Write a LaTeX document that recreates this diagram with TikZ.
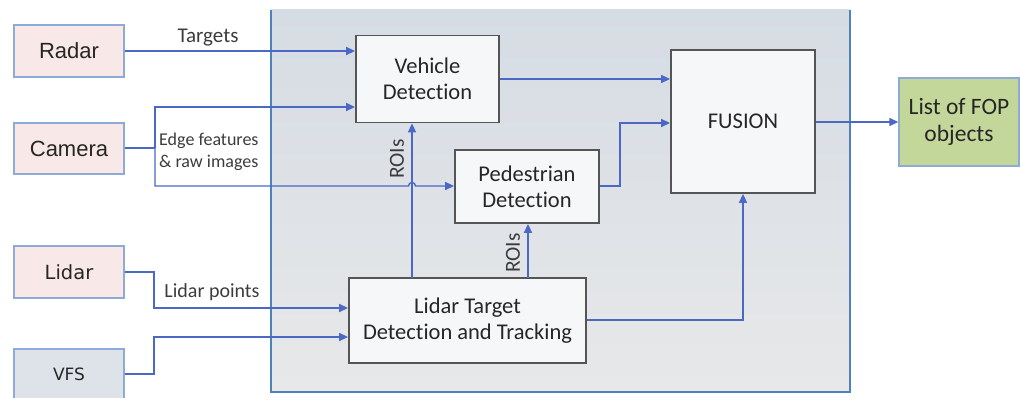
\documentclass[tikz,border=0pt]{standalone}
\usepackage{fontspec}
\setmainfont{Carlito}[Ligatures=NoCommon]
\newfontfamily\arialf{Liberation Sans}
\newfontfamily\dejavu{DejaVu Sans}
\usetikzlibrary{arrows.meta,calc}
\definecolor{linkblue}{HTML}{4A68C4}
\definecolor{frameblue}{HTML}{4F81BD}
\definecolor{inborder}{HTML}{8EAAD6}
\definecolor{pinkfill}{HTML}{F8E8E8}
\definecolor{greyfill}{HTML}{DEE3EA}
\definecolor{greenfill}{HTML}{C4D79B}
\definecolor{procfill}{HTML}{F6F7F8}
\definecolor{procline}{HTML}{555555}
\definecolor{txt}{HTML}{262626}
\definecolor{frametop}{HTML}{D6DCE4}
\definecolor{framebot}{HTML}{E7E8E9}
\tikzset{
  x=1pt, y=-1pt,
  source/.style={draw=inborder, line width=1.4pt, fill=pinkfill, minimum width=110pt, minimum height=52pt, inner sep=0pt, text=txt},
  proc/.style={draw=procline, line width=1.8pt, fill=procfill, inner sep=0pt, text=txt, align=center, font=\fontsize{22.5}{26}\selectfont},
  conn/.style={draw=linkblue, line width=1.4pt},
  arr/.style={conn, -{Triangle[length=9pt,width=8pt]}},
  lbl/.style={text=txt!90, inner sep=0pt, font=\fontsize{20}{24}\selectfont},
}
\begin{document}
\begin{tikzpicture}
\clip (0,0) rectangle (1021,398);
\useasboundingbox (0,0) rectangle (1021,398);

% processing frame
\fill[top color=frametop, bottom color=framebot] (271,10) rectangle (850,392);
\draw[draw=frameblue, line width=2.8pt] (271,10) -- (271,392) -- (850,392) -- (850,10);

% sensors
\node[source, font=\arialf\fontsize{22}{26}\selectfont] (radar) at (69,51) {Radar};
\node[source, font=\arialf\fontsize{22}{26}\selectfont, minimum height=51pt] (camera) at (69,148.5) {Camera};
\node[source, font=\dejavu\fontsize{19.5}{24}\selectfont] (lidar) at (69,272) {Lidar};
\node[source, fill=greyfill, font=\dejavu\fontsize{17}{20}\selectfont, minimum height=50pt] (vfs) at (69,374) {VFS};

% processing blocks
\node[proc, minimum width=143pt, minimum height=87pt] (veh) at (427.5,79) {Vehicle\\Detection};
\node[proc, minimum width=144pt, minimum height=73pt] (ped) at (527,186.5) {Pedestrian\\Detection};
\node[proc, minimum width=237pt, minimum height=85pt] (ltd) at (467.5,320.5) {Lidar Target\\Detection and Tracking};
\node[proc, minimum width=144pt, minimum height=143pt] (fus) at (743,121.5) {FUSION};

% output
\node[draw=inborder, line width=1.4pt, fill=greenfill, minimum width=120pt, minimum height=88pt, inner sep=0pt, text=txt, align=center, font=\fontsize{23.5}{27}\selectfont] (fop) at (959,122) {List of FOP\\objects};

% routing points
\coordinate (camj) at (155,148);
\coordinate (camup) at (155,107);
\coordinate (camdn) at (155,186);
\coordinate (hopl) at (408.5,186);
\coordinate (lidj) at (154,272);
\coordinate (lidin) at (154,308);
\coordinate (vfsj) at (154,374);
\coordinate (vfsin) at (154,337);
\coordinate (pedj) at (620,186);
\coordinate (pedup) at (620,123);
\coordinate (ltdj) at (743,320);
\coordinate (roiv) at (412,278);
\coordinate (roip) at (528,278);

% connectors
\draw[arr] (radar.east) -- (radar.east -| veh.west);
\draw[conn] (camera.east |- camj) -- (camj);
\draw[arr] (camj) -- (camup) -- (camup -| veh.west);
\draw[arr] (roiv) -- (roiv |- veh.south);
\draw[arr] (roip) -- (roip |- ped.south);
\draw[arr] (camj) -- (camdn) -- (hopl) arc[start angle=180, end angle=0, radius=3.5pt] -- (camdn -| ped.west);
\draw[arr] (lidar.east) -- (lidj) -- (lidin) -- (lidin -| ltd.west);
\draw[arr] (vfs.east) -- (vfsj) -- (vfsin) -- (vfsin -| ltd.west);
\draw[arr] (veh.east) -- (veh.east -| fus.west);
\draw[arr] (ped.east |- pedj) -- (pedj) -- (pedup) -- (pedup -| fus.west);
\draw[arr] (ltd.east |- ltdj) -- (ltdj) -- (fus.south);
\draw[arr] (fus.east |- fop.west) -- (fop.west);

% connector labels
\node[lbl, font=\fontsize{21}{24}\selectfont] (tgt) at (208,38) {Targets};
\node[lbl, anchor=west, align=left, font=\fontsize{18}{22.5}\selectfont] (edge) at (159,152) {Edge features\\\& raw images};
\node[lbl] (lpts) at (212,292) {Lidar points};
\node[lbl, rotate=90, font=\fontsize{21.5}{24}\selectfont] (roi1) at (397,159) {ROIs};
\node[lbl, rotate=90, font=\fontsize{21.5}{24}\selectfont] (roi2) at (513,253) {ROIs};
\end{tikzpicture}
\end{document}
